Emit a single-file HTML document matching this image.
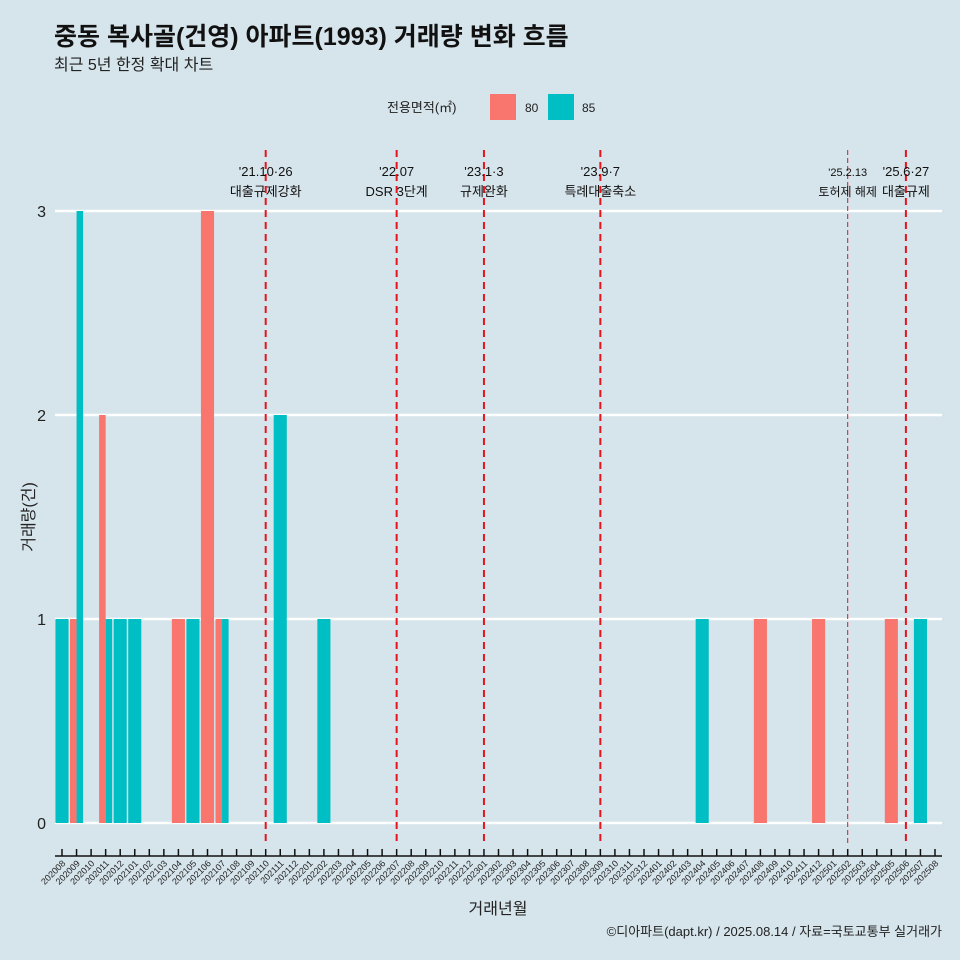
<!DOCTYPE html>
<html><head><meta charset="utf-8"><style>
body{margin:0;background:#d6e4eb;}
svg{display:block;font-family:"Liberation Sans","Noto Sans CJK KR",sans-serif;}
</style></head><body>
<svg id="c" width="960" height="960">
<rect width="960" height="960" fill="#d6e4eb"/>
<text x="54" y="45" font-size="25" font-weight="bold" fill="#111">중동 복사골(건영) 아파트(1993) 거래량 변화 흐름</text>
<text x="54" y="70" font-size="16" fill="#222">최근 5년 한정 확대 차트</text>
<g>
<text x="387" y="112" font-size="13" fill="#222">전용면적(㎡)</text>
<rect x="490" y="94" width="26" height="26" fill="#f8766d"/>
<text x="525" y="112" font-size="12" fill="#222">80</text>
<rect x="548" y="94" width="26" height="26" fill="#00bfc4"/>
<text x="582" y="112" font-size="12" fill="#222">85</text>
</g>
<g id="grid"></g><g id="bars"></g><g id="events"></g><g id="xaxis"></g>
<text transform="translate(34,517) rotate(-90)" text-anchor="middle" font-size="16" fill="#222">거래량(건)</text>
<text x="498" y="914" text-anchor="middle" font-size="16" fill="#222">거래년월</text>
<text x="942" y="936" text-anchor="end" font-size="13" fill="#222">©디아파트(dapt.kr) / 2025.08.14 / 자료=국토교통부 실거래가</text>
</svg>
<script>
const months=[];for(let y=2020;y<=2025;y++)for(let m=1;m<=12;m++){const k=y*100+m;if(k>=202008&&k<=202508)months.push(String(k));}
const series80={"202009":1,"202011":2,"202104":1,"202106":3,"202107":1,"202408":1,"202412":1,"202505":1};
const series85={"202008":1,"202009":3,"202011":1,"202012":1,"202101":1,"202105":1,"202107":1,"202111":2,"202202":1,"202404":1,"202507":1};
const yTicks=[0,1,2,3];
const eventMonths=["202110","202207","202301","202309","202502","202506"];
const eventLine1=["'21.10·26","'22.07","'23.1·3","'23.9·7","'25.2.13","'25.6·27"];
const eventLine2=["대출규제강화","DSR 3단계","규제완화","특례대출축소","토허제 해제","대출규제"];
const NS="http://www.w3.org/2000/svg";
function el(t,a,p){const e=document.createElementNS(NS,t);for(const k in a)e.setAttribute(k,a[k]);document.getElementById(p).appendChild(e);return e;}
const x0=62,step=(935-62)/60,bw=step*0.9;
const X=m=>x0+months.indexOf(m)*step;
const Y=v=>823-v*204;
yTicks.forEach(t=>{let l=el('line',{x1:55,x2:942,y1:Y(t),y2:Y(t),stroke:'#fff','stroke-width':2.5},'grid');

let tx=el('text',{x:46,y:Y(t)+6,'text-anchor':'end','font-size':16,fill:'#222'},'grid');tx.textContent=t;
});
months.forEach(m=>{const a=series80[m],b=series85[m],cx=X(m);
 if(a&&b){let r=el('rect',{x:cx-bw/2,y:Y(a),width:bw/2,height:Y(0)-Y(a),fill:'#f8766d'},'bars');
  let r2=el('rect',{x:cx,y:Y(b),width:bw/2,height:Y(0)-Y(b),fill:'#00bfc4'},'bars');}
 else if(a||b){const v=a||b;let r=el('rect',{x:cx-bw/2,y:Y(v),width:bw,height:Y(0)-Y(v),fill:a?'#f8766d':'#00bfc4'},'bars');}
});
eventMonths.forEach((m,i)=>{const cx=X(m),thin=m==="202502";
 let l=el('line',{x1:cx,x2:cx,y1:150,y2:843,stroke:'#e8141c','stroke-width':thin?1:2,'stroke-dasharray':thin?'5,3':'7,5'},'events');
 let t1=el('text',{x:cx,y:176,'text-anchor':'middle','font-size':thin?11:13,fill:'#111'},'events');t1.textContent=eventLine1[i];
 let t2=el('text',{x:cx,y:196,'text-anchor':'middle','font-size':thin?12:13,fill:'#111'},'events');t2.textContent=eventLine2[i];
});
let ax=el('line',{x1:55,x2:942,y1:856,y2:856,stroke:'#111','stroke-width':1.5},'xaxis');
months.forEach(m=>{const cx=X(m);let tk=el('line',{x1:cx,x2:cx,y1:849,y2:856,stroke:'#111','stroke-width':1.5},'xaxis');
 let t=el('text',{transform:`translate(${cx+4},${864}) rotate(-45)`,'text-anchor':'end','font-size':9,fill:'#222'},'xaxis');t.textContent=m;});
</script>
</body></html>
